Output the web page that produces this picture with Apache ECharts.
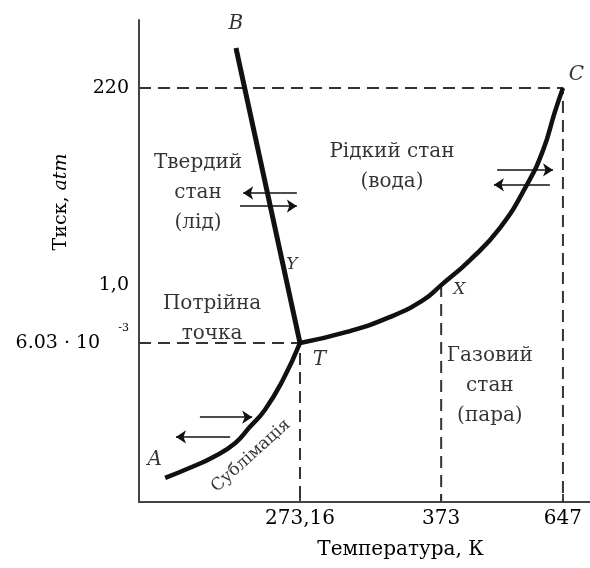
<!DOCTYPE html>
<html>
<head>
<meta charset="utf-8">
<script src="https://cdn.jsdelivr.net/npm/echarts@6/dist/echarts.min.js"></script>
<style>
  html, body { margin: 0; padding: 0; background: #fff; }
  #chart { width: 590px; height: 568px; }
</style>
</head>
<body>
<div id="chart"></div>
<script>
// Schematic phase diagram of water: coordinates are in diagram units (0..100), not to scale
const xTickPos = [35.7, 67.0, 94.0]
const xTickLabels = ['273,16', '373', '647']
const yTickPos = [85.9, 45.0, 33.0]
const yTickLabels = ['220', '1,0', '6.03 · 10   {sup|-3}']

const pointT = [35.7, 33.0]
const pointX = [67.0, 45.0]
const pointC = [94.0, 85.9]
const pointB = [21.5, 94.2]

// curves
const meltingCurve = [pointB, pointT]
const vaporCurve = [
  pointT, [46.1, 35.3], [55.7, 38.4], [63.0, 41.9], pointX,
  [73.4, 50.2], [80.0, 56.8], [86.0, 65.8], [89.6, 73.0], [92.2, 80.9], pointC,
]
const sublimationCurve = [
  [5.8, 5.0], [11.3, 7.1], [16.4, 9.3], [21.3, 12.2], [24.6, 15.6],
  [27.9, 19.1], [31.9, 25.3], pointT,
]

// arrows: [from, to]
const arrows = [
  [[35.0, 64.1], [23.1, 64.1]],
  [[22.4, 61.4], [35.0, 61.4]],
  [[13.5, 17.6], [25.1, 17.6]],
  [[20.2, 13.5], [8.2, 13.5]],
  [[79.4, 68.9], [91.8, 68.9]],
  [[91.1, 65.8], [78.7, 65.8]],
]

// text annotations: [text, x, y, kind, rotate]
const notes = [
  ['B', 21.5, 99.2, 'letter', 0],
  ['C', 97.0, 88.6, 'letter', 0],
  ['A', 3.5, 8.7, 'letter', 0],
  ['T', 40.0, 29.5, 'letter', 0],
  ['X', 71.0, 44.0, 'small', 0],
  ['Y', 33.9, 49.2, 'small', 0],
  ['Твердий\nстан\n(лід)', 13.1, 64.1, 'text', 0],
  ['Рідкий стан\n(вода)', 56.1, 69.5, 'text', 0],
  ['Потрійна\nточка', 16.2, 38.0, 'text', 0],
  ['Газовий\nстан\n(пара)', 77.8, 24.1, 'text', 0],
  ['Сублімація', 24.8, 9.6, 'side', 42],
]

const serif = 'DejaVu Serif'
const ink = '#111'
const textInk = '#000'

const guides = [
  [[0, pointC[1]], pointC, [pointC[0], 0]],
  [[0, pointT[1]], pointT, [pointT[0], 0]],
  [pointX, [pointX[0], 0]],
]

const noteStyle = {
  letter: { fontSize: 20, fontStyle: 'italic' },
  small: { fontSize: 17, fontStyle: 'italic' },
  text: { fontSize: 20, lineHeight: 30 },
  side: { fontSize: 17 },
}

const chart = echarts.init(document.getElementById('chart'))
chart.setOption({
  animation: false,
  grid: { left: 139, right: 0, top: 20, bottom: 66 },
  xAxis: {
    type: 'value',
    min: 0,
    max: 100,
    name: 'Температура, К',
    nameLocation: 'middle',
    nameGap: 38,
    nameMoveOverlap: false,
    nameTextStyle: { fontFamily: serif, fontSize: 20, color: textInk, padding: [0, 0, 0, 72] },
    axisLine: { lineStyle: { color: '#444', width: 2 } },
    axisTick: { show: true, inside: true, length: 8, customValues: xTickPos, lineStyle: { color: '#444', width: 2 } },
    axisLabel: {
      customValues: xTickPos,
      margin: 7,
      fontFamily: serif,
      fontSize: 20,
      color: textInk,
      formatter: (v) => xTickLabels[xTickPos.indexOf(v)] ?? '',
    },
    splitLine: { show: false },
  },
  yAxis: {
    type: 'value',
    min: 0,
    max: 100,
    name: 'Тиск, {it|atm}',
    nameLocation: 'middle',
    nameGap: 68,
    nameMoveOverlap: false,
    nameTextStyle: {
      fontFamily: serif, fontSize: 19, color: textInk, padding: [0, 0, 0, 118],
      rich: { it: { fontFamily: serif, fontSize: 19, fontStyle: 'italic', color: textInk } },
    },
    axisLine: { show: true, lineStyle: { color: '#444', width: 2 } },
    axisTick: { show: false },
    axisLabel: {
      customValues: yTickPos,
      margin: 10,
      fontFamily: serif,
      fontSize: 19,
      color: textInk,
      formatter: (v) => yTickLabels[yTickPos.indexOf(v)] ?? '',
      rich: { sup: { fontFamily: serif, fontSize: 11, color: textInk, padding: [0, 0, 30, 0] } },
    },
    splitLine: { show: false },
  },
  series: [
    ...guides.map((g) => ({
      type: 'line',
      data: g,
      symbol: 'none',
      silent: true,
      lineStyle: { color: '#333', width: 2, type: [12, 7] },
    })),
    {
      type: 'line',
      data: meltingCurve,
      symbol: 'none',
      lineStyle: { color: ink, width: 5 },
    },
    {
      type: 'line',
      data: vaporCurve,
      smooth: true,
      symbol: 'none',
      lineStyle: { color: ink, width: 4.5 },
    },
    {
      type: 'line',
      data: sublimationCurve,
      smooth: true,
      symbol: 'none',
      lineStyle: { color: ink, width: 4.5 },
    },
    {
      type: 'lines',
      coordinateSystem: 'cartesian2d',
      symbol: ['none', 'arrow'],
      symbolSize: 10,
      lineStyle: { color: ink, width: 1.5, opacity: 1 },
      data: arrows.map((a) => ({ coords: a })),
    },
    {
      type: 'scatter',
      symbolSize: 0,
      itemStyle: { color: 'transparent' },
      data: notes.map(([text, x, y, kind, rot]) => ({
        value: [x, y],
        label: {
          show: true,
          position: 'inside',
          formatter: text,
          rotate: rot,
          align: 'center',
          verticalAlign: 'middle',
          fontFamily: serif,
          color: textInk,
          ...noteStyle[kind],
        },
      })),
    },
  ],
})
</script>
</body>
</html>
